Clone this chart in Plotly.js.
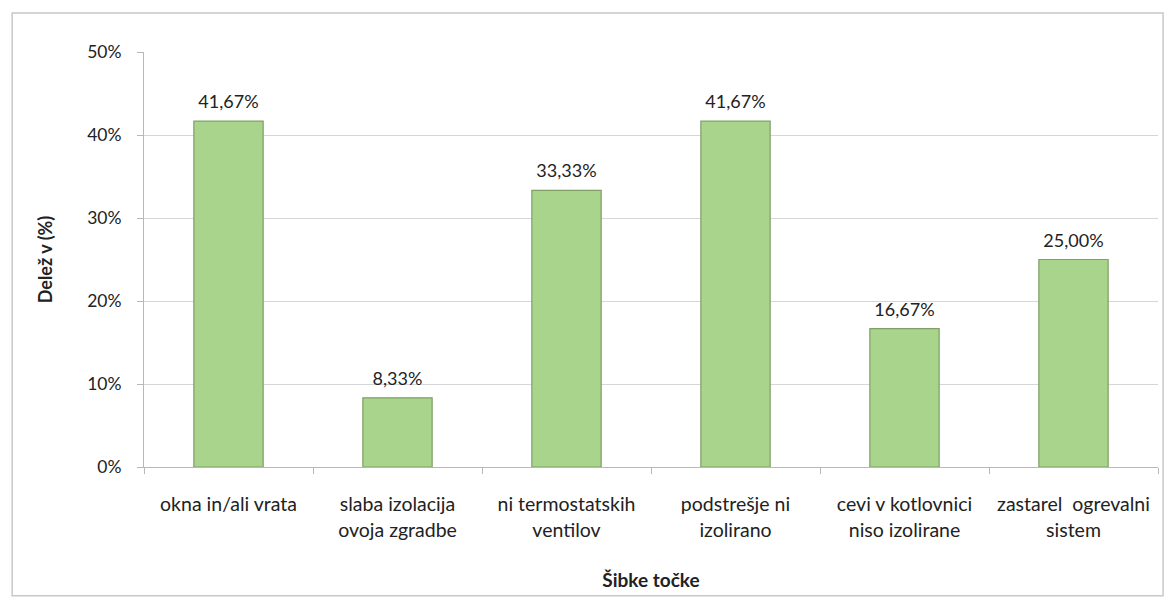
<!DOCTYPE html>
<html>
<head>
<meta charset="utf-8">
<script src="https://cdn.plot.ly/plotly-3.0.1.min.js"></script>
<style>html,body{margin:0;padding:0;background:#fff;}#chart{width:1170px;height:597px;}</style>
</head>
<body>
<div id="chart"></div>
<script>
const categories = ["okna in/ali vrata", "slaba izolacija<br>ovoja zgradbe", "ni termostatskih<br>ventilov", "podstrešje ni<br>izolirano", "cevi v kotlovnici<br>niso izolirane", "zastarel  ogrevalni<br>sistem"];
const values = [41.67, 8.33, 33.33, 41.67, 16.67, 25.00];
const yTickVals = [0, 10, 20, 30, 40, 50];
const yTickText = ["0%", "10%", "20%", "30%", "40%", "50%"];

const font = "Lato, 'Open Sans', sans-serif";
const bars = {
  type: 'bar', x: categories, y: values,
  width: 0.41,
  marker: {color: '#a8d48b', line: {color: '#7f9f66', width: 1.2}},
  hoverinfo: 'skip'
};
const labels = {
  type: 'scatter', mode: 'markers+text', x: categories, y: values,
  marker: {size: 12, opacity: 0},
  texttemplate: '%{y:.2f}%', textposition: 'top center', cliponaxis: false,
  textfont: {family: font, size: 18, color: '#222'},
  hoverinfo: 'skip'
};
const layout = {
  width: 1170, height: 597,
  margin: {l: 144, r: 12, t: 52, b: 130},
  separators: ',.',
  paper_bgcolor: '#fff', plot_bgcolor: '#fff',
  showlegend: false,
  font: {family: font, size: 18, color: '#222'},
  xaxis: {
    type: 'category', showgrid: false, showline: true, linecolor: '#b8b8b8', linewidth: 1,
    ticks: 'outside', tickson: 'boundaries', ticklen: 6, tickcolor: '#b8b8b8',
    ticklabelstandoff: 20,
    tickfont: {family: font, size: 19.5, color: '#222'},
    title: {text: '<b>Šibke točke</b>', font: {family: font, size: 19, color: '#222'}, standoff: 33}
  },
  yaxis: {
    range: [0, 50], tickvals: yTickVals, ticktext: yTickText,
    showgrid: true, gridcolor: '#d6d6d6', gridwidth: 1,
    showline: true, linecolor: '#b8b8b8', ticks: 'outside', ticklen: 6, tickcolor: '#b8b8b8',
    ticklabelstandoff: 12,
    zeroline: false,
    tickfont: {family: font, size: 17.5, color: '#222'},
    title: {text: '<b>Delež v (%)</b>', font: {family: font, size: 18, color: '#222'}, standoff: 29}
  },
  shapes: [{
    type: 'rect', xref: 'paper', yref: 'paper',
    x0: -0.130, x1: 1.005, y0: -0.31, y1: 1.094,
    line: {color: '#c8c8c8', width: 1.5}, fillcolor: 'rgba(0,0,0,0)', layer: 'below'
  }]
};
Plotly.newPlot('chart', [bars, labels], layout, {displayModeBar: false, staticPlot: true});
</script>
</body>
</html>
